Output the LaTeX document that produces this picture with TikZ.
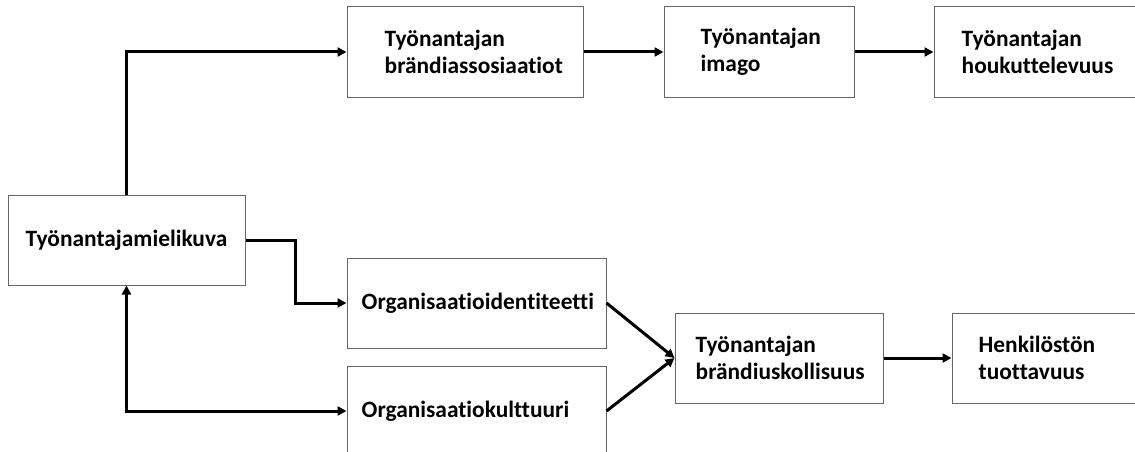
\documentclass[tikz,border=0pt]{standalone}
\usepackage{fontspec}
\setmainfont[Ligatures=NoCommon]{Carlito}
\usetikzlibrary{arrows.meta}
\begin{document}
\begin{tikzpicture}[x=1pt,y=-1pt,
  box/.style={draw=black!60, line width=1pt, minimum height=90pt, inner sep=0pt, fill=white},
  lbl/.style={anchor=west, align=left, inner sep=0pt, font=\fontsize{23.4}{27.5}\selectfont\bfseries},
  conn/.style={line width=3pt, -{Triangle[length=9pt,width=9pt]}},
  dconn/.style={line width=3pt, {Triangle[length=9pt,width=9pt]}-{Triangle[length=9pt,width=9pt]}}]
\useasboundingbox (0,0) rectangle (1135,452);
\clip (0,0) rectangle (1135,452);
\fill[white] (0,0) rectangle (1135,452);
% boxes
\node[box, minimum width=237pt, font=\fontsize{23.4}{27.5}\selectfont\bfseries] (m) at (126.5,240) {Työnantajamielikuva};
\node[box, minimum width=236pt] (b) at (465,52) {};
\node[box, minimum width=190pt] (i) at (759,52) {};
\node[box, minimum width=211pt] (h) at (1039.5,52) {};
\node[box, minimum width=259pt] (oi) at (476.5,303) {};
\node[box, minimum width=259pt] (ok) at (476.5,411) {};
\node[box, minimum width=208pt] (u) at (779,358) {};
\node[box, minimum width=193pt] (p) at (1048.5,358) {};
% texts
\node[lbl] (tb) at ([xshift=38pt]b.west) {Työnantajan\\brändiassosiaatiot};
\node[lbl] (ti) at ([xshift=37pt]i.west) {Työnantajan\\imago};
\node[lbl] (th) at ([xshift=28pt]h.west) {Työnantajan\\houkuttelevuus};
\node[lbl] (toi) at ([xshift=15pt]oi.west) {Organisaatioidentiteetti};
\node[lbl] (tok) at ([xshift=15pt]ok.west) {Organisaatiokulttuuri};
\node[lbl] (tu) at ([xshift=21pt]u.west) {Työnantajan\\brändiuskollisuus};
\node[lbl] (tp) at ([xshift=27pt]p.west) {Henkilöstön\\tuottavuus};
% connectors
\coordinate (e1) at (295,303);
\draw[conn] (m.north) |- (b.west);
\draw[conn] (b.east) -- (i.west);
\draw[conn] (i.east) -- (h.west);
\draw[conn] (m.east) -| (e1) -- (oi.west);
\draw[dconn] (m.south) |- (ok.west);
\draw[conn] (oi.east) -- (u.west);
\draw[conn] (ok.east) -- (u.west);
\draw[conn] (u.east) -- (p.west);
\end{tikzpicture}
\end{document}
